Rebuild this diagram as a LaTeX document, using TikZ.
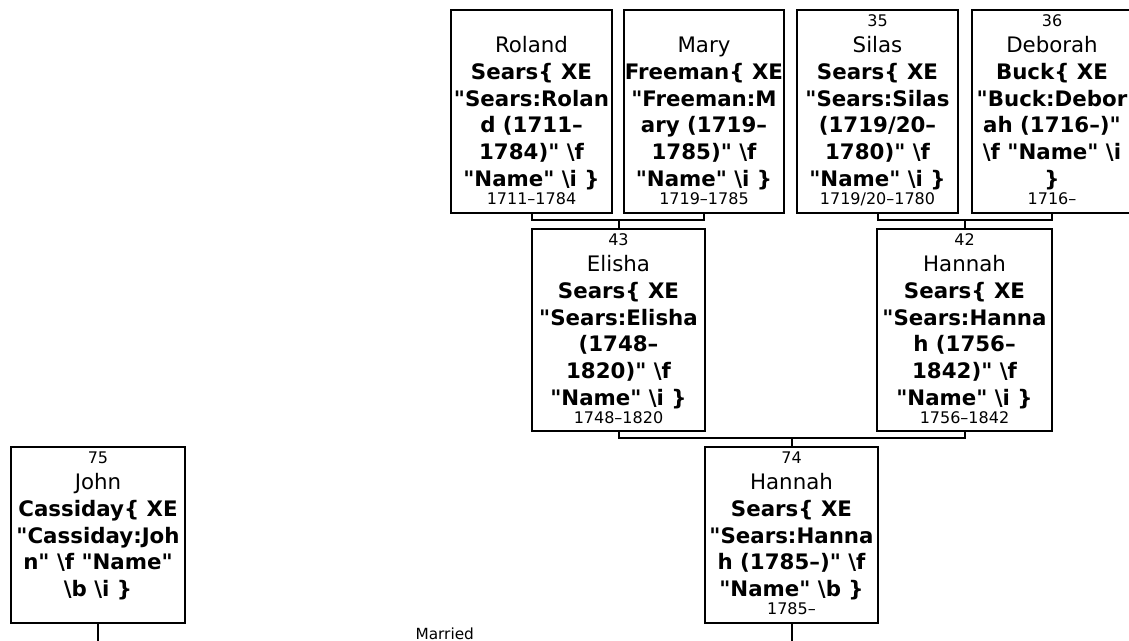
\documentclass[tikz,border=0pt]{standalone}
\usepackage{fontspec}
\setmainfont{DejaVu Sans}[Ligatures=TeXOff]
\usetikzlibrary{positioning,calc}
\tikzset{
  person/.style={draw=black, line width=1.5pt, inner sep=0pt, fill=white},
  bracket/.style={draw=black, line width=1.5pt},
  note/.style={font=\fontsize{11.5}{14}\selectfont, inner sep=0pt},
}
\newcommand{\numfont}{\fontsize{12}{13.5}\selectfont}
\newcommand{\givenfont}{\fontsize{16}{19.5}\selectfont}
\newcommand{\surfont}{\fontsize{16}{20}\selectfont\bfseries}
\newcommand{\firstline}{\rule{0pt}{12.75pt}}
\newcommand{\bksl}{\textbackslash}
\newcommand{\dsh}{\textendash}
% width, height, number, given name, surname lines, dates
\newcommand{\card}[6]{\parbox[t][#2][t]{#1}{\centering
  {\numfont\firstline#3\par}{\givenfont #4\par}{\surfont #5\par}{\numfont #6\par}}}

\begin{document}
\begin{tikzpicture}[x=0.75pt, y=-0.75pt]
\useasboundingbox (0,0) rectangle (1129,641);
\clip (0,0) rectangle (1129,641);
\fill[white] (0,0) rectangle (1129,641);

% grandparents
\node[person] (roland) at (531.5,111.5) {\card{120.75pt}{152.25pt}{}{Roland}
  {Sears\{ XE\\"Sears:Rolan\\d (1711\dsh\\1784)" \bksl f\\"Name" \bksl i \}}{1711\dsh1784}};
\node[person] (mary) at (704,111.5) {\card{120pt}{152.25pt}{}{Mary}
  {Freeman\{ XE\\"Freeman:M\\ary (1719\dsh\\1785)" \bksl f\\"Name" \bksl i \}}{1719\dsh1785}};
\node[person] (silas) at (877.5,111.5) {\card{120.75pt}{152.25pt}{35}{Silas}
  {Sears\{ XE\\"Sears:Silas\\(1719/20\dsh\\1780)" \bksl f\\"Name" \bksl i \}}{1719/20\dsh1780}};
\node[person] (deborah) at (1052,111.5) {\card{120pt}{152.25pt}{36}{Deborah}
  {Buck\{ XE\\"Buck:Debor\\ah (1716\dsh)"\\\bksl f "Name" \bksl i\\\}}{1716\dsh}};

% parents
\node[person] (elisha) at (618.5,330) {\card{129.75pt}{151.5pt}{43}{Elisha}
  {Sears\{ XE\\"Sears:Elisha\\(1748\dsh\\1820)" \bksl f\\"Name" \bksl i \}}{1748\dsh1820}};
\node[person] (hannah42) at (964.5,330) {\card{131.25pt}{151.5pt}{42}{Hannah}
  {Sears\{ XE\\"Sears:Hanna\\h (1756\dsh\\1842)" \bksl f\\"Name" \bksl i \}}{1756\dsh1842}};

% couple
\node[person] (hannah74) at (791.5,535) {\card{129.75pt}{132pt}{74}{Hannah}
  {Sears\{ XE\\"Sears:Hanna\\h (1785\dsh)" \bksl f\\"Name" \bksl b \}}{1785\dsh}};
\node[person] (john) at (98,535) {\card{130.5pt}{132pt}{75}{John}
  {Cassiday\{ XE\\"Cassiday:Joh\\n" \bksl f "Name"\\\bksl b \bksl i \}}{}};

% brackets
\coordinate (b1) at ($(elisha.north)+(0,-8)$);
\draw[bracket] (roland.south) |- (b1) -| (mary.south);
\draw[bracket] (b1) -- (elisha.north);
\coordinate (b2) at ($(hannah42.north)+(0,-8)$);
\draw[bracket] (silas.south) |- (b2) -| (deborah.south);
\draw[bracket] (b2) -- (hannah42.north);
\coordinate (b3) at ($(hannah74.north)+(0,-8)$);
\draw[bracket] (elisha.south) |- (b3) -| (hannah42.south);
\draw[bracket] (b3) -- (hannah74.north);

% marriage
\coordinate (johnend) at ($(john.south)+(0,20)$);
\coordinate (hannahend) at ($(hannah74.south)+(0,20)$);
\draw[bracket] (john.south) -- (johnend);
\draw[bracket] (hannah74.south) -- (hannahend);
\node[note] (married) at ($(johnend)!0.5!(hannahend)+(0,-10.5)$) {Married};
\end{tikzpicture}
\end{document}
